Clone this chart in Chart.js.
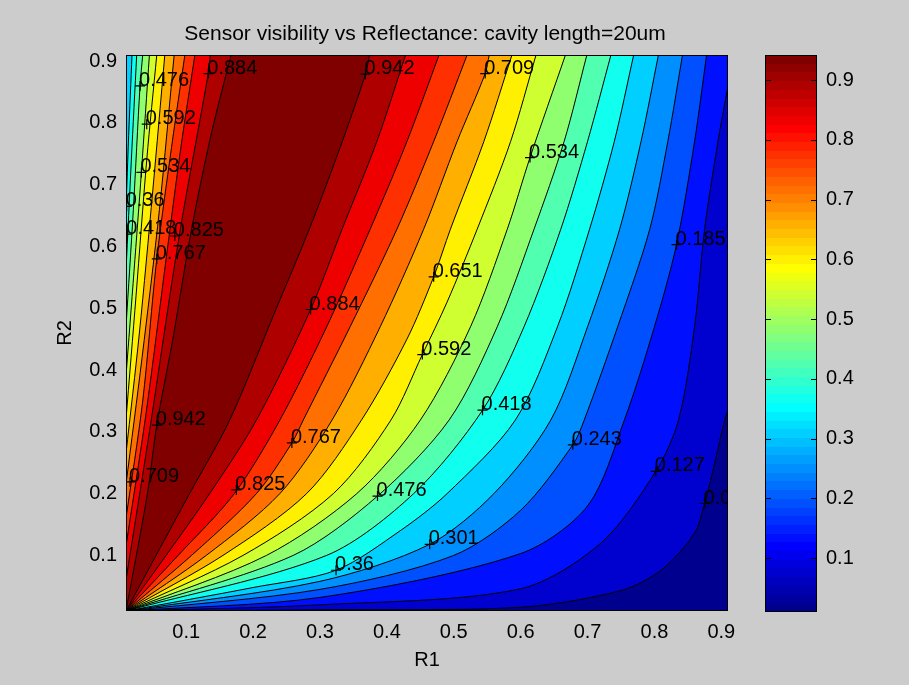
<!DOCTYPE html>
<html>
<head>
<meta charset="utf-8">
<script src="https://cdn.jsdelivr.net/npm/chart.js@4.4.1/dist/chart.umd.min.js"></script>
<style>
html, body { margin: 0; padding: 0; background: #cccccc; }
#wrap { position: relative; width: 909px; height: 685px; overflow: hidden; }
canvas { position: absolute; top: 0; }
</style>
</head>
<body>
<div id="wrap">
  <canvas id="plot" width="909" height="685" style="left:0"></canvas>
  <canvas id="cbar" width="169" height="685" style="left:740px"></canvas>
</div>
<script>
// contour levels (17 levels from min to max of the colour scale)
const levelValues = [0.0100, 0.0683, 0.1265, 0.1848, 0.2430, 0.3013, 0.3595, 0.4178, 0.4760,
  0.5343, 0.5925, 0.6508, 0.7090, 0.7673, 0.8255, 0.8838, 0.9420];

const xTicks = [0.1, 0.2, 0.3, 0.4, 0.5, 0.6, 0.7, 0.8, 0.9];
const yTicks = [0.1, 0.2, 0.3, 0.4, 0.5, 0.6, 0.7, 0.8, 0.9];
const cbarTicks = [0.1, 0.2, 0.3, 0.4, 0.5, 0.6, 0.7, 0.8, 0.9];

// right-hand branch of each contour [R1, R2], from the origin to the top / right edge
const rightBranches = [
  null,
  [[0.01,0.01],[0.3,0.012],[0.6,0.016],[0.75,0.043],[0.81,0.076],[0.86,0.136],[0.875,0.184],[0.89,0.249],[0.905,0.319],[0.91,0.335]],
  [[0.01,0.01],[0.3,0.02],[0.6,0.046],[0.72,0.12],[0.802,0.236],[0.836,0.319],[0.86,0.47],[0.875,0.628],[0.895,0.77],[0.91,0.86]],
  [[0.01,0.01],[0.3,0.032],[0.6,0.103],[0.7,0.18],[0.755,0.319],[0.80,0.47],[0.833,0.603],[0.86,0.77],[0.878,0.91]],
  [[0.01,0.01],[0.3,0.045],[0.5,0.1],[0.6,0.173],[0.678,0.279],[0.695,0.319],[0.745,0.47],[0.793,0.628],[0.82,0.77],[0.842,0.91]],
  [[0.01,0.01],[0.3,0.058],[0.464,0.118],[0.56,0.2],[0.645,0.319],[0.70,0.47],[0.748,0.628],[0.78,0.77],[0.806,0.91]],
  [[0.01,0.01],[0.2,0.048],[0.324,0.076],[0.42,0.14],[0.49,0.2],[0.592,0.319],[0.655,0.47],[0.703,0.628],[0.74,0.77],[0.769,0.91]],
  [[0.01,0.01],[0.31,0.1],[0.44,0.2],[0.543,0.335],[0.605,0.47],[0.66,0.628],[0.70,0.77],[0.735,0.91]],
  [[0.01,0.01],[0.26,0.1],[0.386,0.196],[0.493,0.319],[0.565,0.47],[0.62,0.628],[0.665,0.77],[0.699,0.91]],
  [[0.01,0.01],[0.22,0.1],[0.355,0.2],[0.45,0.319],[0.525,0.47],[0.58,0.628],[0.614,0.744],[0.667,0.91]],
  [[0.01,0.01],[0.185,0.1],[0.32,0.2],[0.406,0.319],[0.453,0.425],[0.49,0.51],[0.535,0.628],[0.585,0.77],[0.623,0.91]],
  [[0.01,0.01],[0.155,0.1],[0.28,0.2],[0.362,0.319],[0.43,0.45],[0.470,0.551],[0.495,0.628],[0.545,0.77],[0.587,0.91]],
  [[0.01,0.01],[0.13,0.1],[0.24,0.2],[0.318,0.319],[0.39,0.47],[0.455,0.628],[0.505,0.77],[0.547,0.88],[0.553,0.91]],
  [[0.01,0.01],[0.108,0.1],[0.205,0.2],[0.258,0.282],[0.275,0.319],[0.345,0.47],[0.415,0.628],[0.47,0.77],[0.52,0.91]],
  [[0.01,0.01],[0.088,0.1],[0.172,0.2],[0.24,0.319],[0.31,0.47],[0.375,0.628],[0.43,0.77],[0.478,0.91]],
  [[0.01,0.01],[0.07,0.1],[0.135,0.2],[0.205,0.319],[0.286,0.498],[0.333,0.628],[0.385,0.77],[0.428,0.91]],
  [[0.01,0.01],[0.055,0.1],[0.105,0.2],[0.165,0.319],[0.234,0.498],[0.284,0.628],[0.33,0.76],[0.368,0.879],[0.374,0.91]]
];

// left-hand branch (close to R1 = 0), from the left edge up to the top edge
const leftBranches = [
  null, null, null, null, null, null,
  [[0.01,0.66],[0.014,0.78],[0.019,0.91]],
  [[0.01,0.56],[0.018,0.74],[0.026,0.91]],
  [[0.01,0.47],[0.021,0.66],[0.031,0.86],[0.035,0.91]],
  [[0.01,0.39],[0.022,0.56],[0.033,0.72],[0.045,0.91]],
  [[0.01,0.32],[0.025,0.52],[0.041,0.74],[0.056,0.91]],
  [[0.01,0.265],[0.03,0.46],[0.05,0.69],[0.068,0.91]],
  [[0.01,0.215],[0.034,0.42],[0.06,0.66],[0.082,0.91]],
  [[0.01,0.16],[0.035,0.35],[0.056,0.58],[0.078,0.76],[0.098,0.91]],
  [[0.01,0.115],[0.04,0.33],[0.07,0.58],[0.092,0.76],[0.113,0.91]],
  [[0.01,0.06],[0.045,0.3],[0.09,0.62],[0.133,0.88],[0.136,0.91]],
  [[0.01,0.01],[0.042,0.2],[0.056,0.311],[0.08,0.45],[0.108,0.628],[0.137,0.78],[0.167,0.91]]
];

// contour labels: "+" position and text
const labelR1 = [0.875, 0.802, 0.833, 0.678, 0.464, 0.324, 0.543, 0.386, 0.614, 0.453, 0.470, 0.547, 0.258, 0.175, 0.286, 0.368,
  0.133, 0.031, 0.041, 0.033, 0.011, 0.012, 0.083, 0.056, 0.056, 0.016];
const labelR2 = [0.184, 0.236, 0.603, 0.279, 0.118, 0.076, 0.335, 0.196, 0.744, 0.425, 0.551, 0.880, 0.282, 0.206, 0.498, 0.879,
  0.880, 0.860, 0.798, 0.720, 0.665, 0.620, 0.617, 0.580, 0.311, 0.219];
const labelText = ['0.0683', '0.127', '0.185', '0.243', '0.301', '0.36', '0.418', '0.476', '0.534', '0.592', '0.651', '0.709', '0.767', '0.825', '0.884', '0.942',
  '0.884', '0.476', '0.592', '0.534', '0.36', '0.418', '0.825', '0.767', '0.942', '0.709'];

const X_MIN = 0.01, X_MAX = 0.91, Y_MIN = 0.01, Y_MAX = 0.91;
const FONT = '"Liberation Sans", Arial, Helvetica, sans-serif';
const TENSION = 0.3;

Chart.defaults.font.family = FONT;
Chart.defaults.color = '#000';

// MATLAB jet(64)
function jetRow(i) {
  const u = j => (j < 1 || j > 47) ? 0 : j <= 16 ? j / 16 : j <= 31 ? 1 : (48 - j) / 16;
  const row = i + 1;
  const r = u(row - 24), g = u(row - 8), b = u(row + 8);
  return 'rgb(' + Math.round(r * 255) + ',' + Math.round(g * 255) + ',' + Math.round(b * 255) + ')';
}
const nBands = levelValues.length - 1;
function bandColor(k) {
  return jetRow(Math.min(63, Math.round(k * 64 / nBands)));
}

function toPts(arr) {
  return arr.map(p => ({x: p[0], y: p[1]}));
}

// region where value >= level k, closed along the plot border.
// Branch ends and corners are doubled so the spline of each branch
// is the same as the one of its contour line, and border edges stay straight.
function regionPolygon(k) {
  const right = rightBranches[k];
  const left = leftBranches[k];
  const pts = [];
  const corner = (x, y) => { pts.push({x: x, y: y}, {x: x, y: y}); };
  const branch = arr => {
    corner(arr[0][0], arr[0][1]);
    for (let i = 1; i < arr.length - 1; i++) pts.push({x: arr[i][0], y: arr[i][1]});
    corner(arr[arr.length - 1][0], arr[arr.length - 1][1]);
  };
  corner(X_MIN, Y_MIN);
  if (left) {
    branch(left);
  } else {
    corner(X_MIN, Y_MAX);
  }
  const end = right[right.length - 1];
  if (end[1] < Y_MAX) corner(X_MAX, Y_MAX);
  branch(right.slice().reverse());
  return pts;
}

const datasets = [];
datasets.push({
  data: [{x: X_MIN, y: Y_MIN}, {x: X_MAX, y: Y_MIN}, {x: X_MAX, y: Y_MAX}, {x: X_MIN, y: Y_MAX}],
  showLine: true, fill: 'shape', backgroundColor: bandColor(0), borderColor: 'rgba(0,0,0,0)',
  borderWidth: 0, pointRadius: 0, order: 200
});
for (let k = 1; k <= nBands; k++) {
  datasets.push({
    data: regionPolygon(k),
    showLine: true, fill: 'shape', backgroundColor: bandColor(k), borderColor: 'rgba(0,0,0,0)',
    borderWidth: 0, pointRadius: 0, tension: TENSION, order: 200 - k
  });
}
for (let k = 1; k <= nBands; k++) {
  [rightBranches[k], leftBranches[k]].forEach(br => {
    if (!br) return;
    datasets.push({
      data: toPts(br), showLine: true, fill: false, borderColor: '#000', borderWidth: 1,
      pointRadius: 0, tension: TENSION, order: 2
    });
  });
}
datasets.push({
  data: labelR1.map((v, i) => ({x: v, y: labelR2[i]})),
  showLine: false, pointStyle: 'cross', pointRadius: 5, borderColor: '#000', borderWidth: 1.2,
  backgroundColor: '#000', order: 1
});

const plotDecor = {
  id: 'plotDecor',
  afterDatasetsDraw(chart) {
    const {ctx, chartArea: a, scales: {x, y}} = chart;
    ctx.save();
    ctx.beginPath();
    ctx.rect(a.left, a.top, a.right - a.left, a.bottom - a.top);
    ctx.clip();
    ctx.font = '20px ' + FONT;
    ctx.fillStyle = '#000';
    ctx.textAlign = 'left';
    ctx.textBaseline = 'alphabetic';
    labelText.forEach((t, i) => {
      ctx.fillText(t, x.getPixelForValue(labelR1[i]) - 1, y.getPixelForValue(labelR2[i]));
    });
    ctx.restore();

    ctx.save();
    ctx.strokeStyle = '#000';
    ctx.lineWidth = 1;
    ctx.strokeRect(a.left + 0.5, a.top + 0.5, a.right - a.left - 1, a.bottom - a.top - 1);
    ctx.font = '21px ' + FONT;
    ctx.fillStyle = '#000';
    ctx.textAlign = 'center';
    ctx.textBaseline = 'alphabetic';
    ctx.fillText('Sensor visibility vs Reflectance: cavity length=20um', (a.left + a.right) / 2 - 2, a.top - 15);
    ctx.restore();
  }
};

new Chart(document.getElementById('plot'), {
  type: 'scatter',
  data: {datasets: datasets},
  options: {
    responsive: false,
    animation: false,
    events: [],
    layout: {padding: {left: 0, top: 55, right: 181, bottom: 0}},
    plugins: {legend: {display: false}, tooltip: {enabled: false}, title: {display: false}},
    scales: {
      x: {
        type: 'linear', min: X_MIN, max: X_MAX,
        afterBuildTicks: s => { s.ticks = xTicks.map(v => ({value: v})); },
        afterFit: s => { s.height = 74; },
        ticks: {font: {size: 20}, padding: 9, color: '#000', callback: v => v.toFixed(1)},
        grid: {display: false, drawTicks: false},
        border: {display: false},
        title: {display: true, text: 'R1', font: {size: 20}, color: '#000', padding: {top: 13, bottom: 13}}
      },
      y: {
        type: 'linear', min: Y_MIN, max: Y_MAX,
        afterBuildTicks: s => { s.ticks = yTicks.map(v => ({value: v})); },
        afterFit: s => { s.width = 126; },
        ticks: {font: {size: 20}, padding: 9, color: '#000', callback: v => v.toFixed(1)},
        grid: {display: false, drawTicks: false},
        border: {display: false},
        title: {display: true, text: 'R2', font: {size: 20}, color: '#000', padding: {top: 53, bottom: 53}}
      }
    }
  },
  plugins: [plotDecor]
});

// colour bar
const cMin = levelValues[0], cMax = levelValues[levelValues.length - 1];

function jetGradient(chart) {
  const a = chart.chartArea;
  if (!a) return bandColor(0);
  const yScale = chart.scales.y;
  const g = chart.ctx.createLinearGradient(0, yScale.getPixelForValue(cMin), 0, yScale.getPixelForValue(cMax));
  for (let i = 0; i < 64; i++) {
    g.addColorStop(i / 64, jetRow(i));
    g.addColorStop((i + 1) / 64 - 1e-6, jetRow(i));
  }
  return g;
}

const cbarDecor = {
  id: 'cbarDecor',
  afterDatasetsDraw(chart) {
    const {ctx, chartArea: a, scales: {y}} = chart;
    ctx.save();
    ctx.strokeStyle = '#000';
    ctx.lineWidth = 1;
    ctx.strokeRect(a.left + 0.5, a.top + 0.5, a.right - a.left - 1, a.bottom - a.top - 1);
    ctx.beginPath();
    cbarTicks.forEach(v => {
      const py = Math.round(y.getPixelForValue(v)) + 0.5;
      ctx.moveTo(a.left, py); ctx.lineTo(a.left + 6, py);
      ctx.moveTo(a.right - 6, py); ctx.lineTo(a.right, py);
    });
    ctx.stroke();
    ctx.restore();
  }
};

new Chart(document.getElementById('cbar'), {
  type: 'bar',
  data: {
    labels: [''],
    datasets: [{
      data: [[cMin, cMax]],
      backgroundColor: ctx => jetGradient(ctx.chart),
      borderWidth: 0, barPercentage: 1, categoryPercentage: 1
    }]
  },
  options: {
    responsive: false,
    animation: false,
    events: [],
    layout: {padding: {left: 25, top: 55, right: 0, bottom: 73}},
    plugins: {legend: {display: false}, tooltip: {enabled: false}},
    scales: {
      x: {display: false},
      y: {
        position: 'right', min: cMin, max: cMax,
        afterBuildTicks: s => { s.ticks = cbarTicks.map(v => ({value: v})); },
        afterFit: s => { s.width = 92; },
        ticks: {font: {size: 20}, padding: 9, color: '#000', callback: v => v.toFixed(1)},
        grid: {display: false, drawTicks: false},
        border: {display: false}
      }
    }
  },
  plugins: [cbarDecor]
});
</script>
</body>
</html>
